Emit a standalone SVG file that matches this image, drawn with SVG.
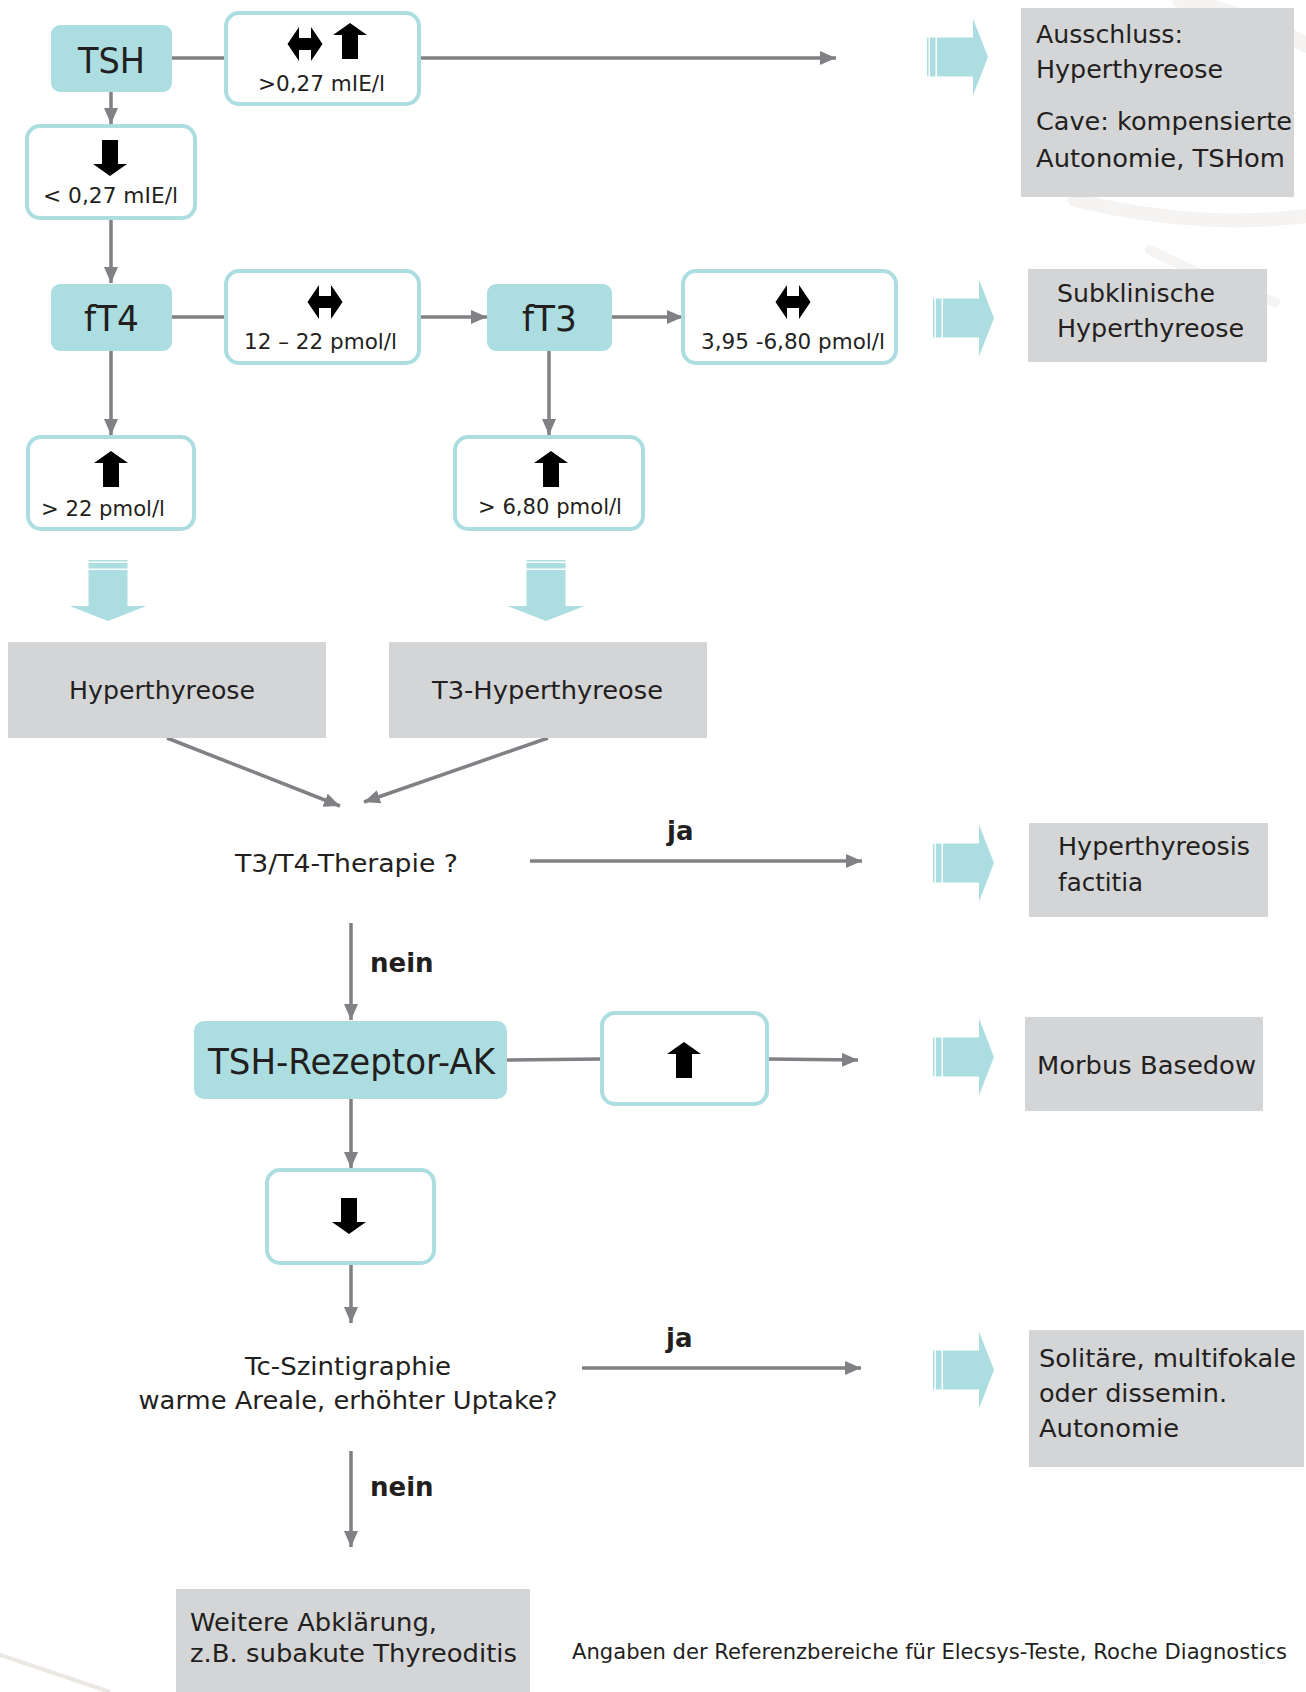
<svg xmlns="http://www.w3.org/2000/svg" xmlns:xlink="http://www.w3.org/1999/xlink" width="1306" height="1692" viewBox="0 0 1306 1692">
<style>
  .t { font-family: "DejaVu Sans", Verdana, sans-serif; fill: #231f20; }
  .big { font-size: 36px; }
  .mid { font-size: 25px; }
  .sm { font-size: 21px; }
  .lbl { font-size: 26px; font-weight: bold; }
  .cyan { fill: #acdde1; }
  .wbox { fill: #ffffff; stroke: #acdde1; stroke-width: 4; }
  .gbox { fill: #d4d5d7; }
  .con { fill: none; stroke: #808085; stroke-width: 3.5; }
  .icon { fill: #000000; }
  .blk { fill: #acdde1; }
  .wm { fill: none; stroke: #f6f4f2; stroke-linecap: round; }
</style>
<defs>
  <marker id="ah" markerUnits="userSpaceOnUse" markerWidth="16" markerHeight="14" refX="16" refY="7" orient="auto">
    <path d="M0,0 L16,7 L0,14 Z" fill="#808085"/>
  </marker>
  <g id="blockR">
    <path class="blk" d="M0,-19.5h1.5v39h-1.5z M3,-19.5h5.5v39h-5.5z M10,-19.5H46V-38.5L61,0L46,38.5V19.5H10Z"/>
  </g>
  <path id="upA" d="M-8,18 V-6 H-17 L0,-18 L17,-6 H8 V18 Z"/>
  <path id="downA" d="M-8,-18 V6 H-17 L0,18 L17,6 H8 V-18 Z"/>
  <path id="lrA" d="M-17.5,0 L-6,-17 V-6 H6 V-17 L17.5,0 L6,17 V6 H-6 V17 Z"/>
</defs>

<g id="watermark">
  <path class="wm" stroke-width="16" d="M1180,0 C1230,10 1280,30 1306,45"/>
  <path class="wm" stroke-width="14" d="M1075,200 C1150,218 1230,226 1306,216"/>
  <path class="wm" stroke-width="10" d="M1150,250 C1200,275 1240,292 1275,302"/>
  <path fill="none" stroke="#ebe7e3" stroke-width="4" d="M0,1655 L110,1692"/>
</g>

<g id="connectors">
  <line class="con" x1="172" y1="58" x2="226" y2="58"/>
  <line class="con" x1="419" y1="58" x2="836" y2="58" marker-end="url(#ah)"/>
  <line class="con" x1="111" y1="92" x2="111" y2="124" marker-end="url(#ah)"/>
  <line class="con" x1="111" y1="218" x2="111" y2="283" marker-end="url(#ah)"/>
  <line class="con" x1="172" y1="317" x2="226" y2="317"/>
  <line class="con" x1="419" y1="317" x2="487" y2="317" marker-end="url(#ah)"/>
  <line class="con" x1="612" y1="317" x2="683" y2="317" marker-end="url(#ah)"/>
  <line class="con" x1="111" y1="351" x2="111" y2="435" marker-end="url(#ah)"/>
  <line class="con" x1="549" y1="351" x2="549" y2="435" marker-end="url(#ah)"/>
  <line class="con" x1="167" y1="738" x2="340" y2="806" marker-end="url(#ah)"/>
  <line class="con" x1="548" y1="738" x2="364" y2="802" marker-end="url(#ah)"/>
  <line class="con" x1="530" y1="861" x2="862" y2="861" marker-end="url(#ah)"/>
  <line class="con" x1="351" y1="923" x2="351" y2="1020" marker-end="url(#ah)"/>
  <line class="con" x1="507" y1="1060" x2="602" y2="1059"/>
  <line class="con" x1="767" y1="1059" x2="858" y2="1060" marker-end="url(#ah)"/>
  <line class="con" x1="351" y1="1099" x2="351" y2="1168" marker-end="url(#ah)"/>
  <line class="con" x1="351" y1="1263" x2="351" y2="1323" marker-end="url(#ah)"/>
  <line class="con" x1="582" y1="1368" x2="861" y2="1368" marker-end="url(#ah)"/>
  <line class="con" x1="351" y1="1451" x2="351" y2="1547" marker-end="url(#ah)"/>
  <text class="t lbl" x="667" y="840">ja</text>
  <text class="t lbl" x="370" y="972">nein</text>
  <text class="t lbl" x="666" y="1347">ja</text>
  <text class="t lbl" x="370" y="1496">nein</text>
</g>

<g id="block-arrows">
  <use xlink:href="#blockR" transform="translate(927,57)"/>
  <use xlink:href="#blockR" transform="translate(933,318)"/>
  <use xlink:href="#blockR" transform="translate(933,863)"/>
  <use xlink:href="#blockR" transform="translate(933,1057)"/>
  <use xlink:href="#blockR" transform="translate(933,1370)"/>
  <use xlink:href="#blockR" transform="translate(108,560) rotate(90)"/>
  <use xlink:href="#blockR" transform="translate(546,560) rotate(90)"/>
</g>

<g id="tsh">
  <rect class="cyan" x="51" y="25" width="121" height="67" rx="9"/>
  <text class="t big" x="78" y="73" textLength="67" lengthAdjust="spacingAndGlyphs">TSH</text>
</g>

<g id="tsh-normal">
  <rect class="wbox" x="226" y="13" width="193" height="91" rx="13"/>
  <use xlink:href="#lrA" class="icon" x="305" y="44"/>
  <use xlink:href="#upA" class="icon" x="350" y="41"/>
  <text class="t sm" x="258" y="91" textLength="127" lengthAdjust="spacingAndGlyphs">&gt;0,27 mIE/l</text>
</g>

<g id="tsh-low">
  <rect class="wbox" x="27" y="126" width="168" height="92" rx="13"/>
  <use xlink:href="#downA" class="icon" x="110" y="158"/>
  <text class="t sm" x="43" y="203" textLength="135" lengthAdjust="spacingAndGlyphs">&lt; 0,27 mIE/l</text>
</g>

<g id="result-ausschluss">
  <rect class="gbox" x="1021" y="8" width="273" height="189"/>
  <text class="t mid" x="1036" y="43" textLength="147" lengthAdjust="spacingAndGlyphs">Ausschluss:</text>
  <text class="t mid" x="1036" y="78" textLength="187" lengthAdjust="spacingAndGlyphs">Hyperthyreose</text>
  <text class="t mid" x="1036" y="130" textLength="256" lengthAdjust="spacingAndGlyphs">Cave: kompensierte</text>
  <text class="t mid" x="1036" y="167" textLength="249" lengthAdjust="spacingAndGlyphs">Autonomie, TSHom</text>
</g>

<g id="ft4">
  <rect class="cyan" x="51" y="284" width="121" height="67" rx="9"/>
  <text class="t big" x="84" y="331" textLength="55" lengthAdjust="spacingAndGlyphs">fT4</text>
</g>

<g id="ft4-normal">
  <rect class="wbox" x="226" y="271" width="193" height="92" rx="13"/>
  <use xlink:href="#lrA" class="icon" x="325" y="302"/>
  <text class="t sm" x="244" y="349" textLength="153" lengthAdjust="spacingAndGlyphs">12 – 22 pmol/l</text>
</g>

<g id="ft3">
  <rect class="cyan" x="487" y="284" width="125" height="67" rx="9"/>
  <text class="t big" x="522" y="331" textLength="55" lengthAdjust="spacingAndGlyphs">fT3</text>
</g>

<g id="ft3-normal">
  <rect class="wbox" x="683" y="271" width="213" height="92" rx="13"/>
  <use xlink:href="#lrA" class="icon" x="793" y="302"/>
  <text class="t sm" x="701" y="349" textLength="184" lengthAdjust="spacingAndGlyphs">3,95 -6,80 pmol/l</text>
</g>

<g id="result-subklinisch">
  <rect class="gbox" x="1028" y="269" width="239" height="93"/>
  <text class="t mid" x="1057" y="302" textLength="158" lengthAdjust="spacingAndGlyphs">Subklinische</text>
  <text class="t mid" x="1057" y="337" textLength="187" lengthAdjust="spacingAndGlyphs">Hyperthyreose</text>
</g>

<g id="ft4-high">
  <rect class="wbox" x="28" y="437" width="166" height="92" rx="13"/>
  <use xlink:href="#upA" class="icon" x="111" y="469"/>
  <text class="t sm" x="41" y="516" textLength="124" lengthAdjust="spacingAndGlyphs">&gt; 22 pmol/l</text>
</g>

<g id="ft3-high">
  <rect class="wbox" x="455" y="437" width="188" height="92" rx="13"/>
  <use xlink:href="#upA" class="icon" x="551" y="469"/>
  <text class="t sm" x="478" y="514" textLength="144" lengthAdjust="spacingAndGlyphs">&gt; 6,80 pmol/l</text>
</g>

<g id="hyperthyreose">
  <rect class="gbox" x="8" y="642" width="318" height="96"/>
  <text class="t mid" x="69" y="699" textLength="186" lengthAdjust="spacingAndGlyphs">Hyperthyreose</text>
</g>

<g id="t3-hyperthyreose">
  <rect class="gbox" x="389" y="642" width="318" height="96"/>
  <text class="t mid" x="432" y="699" textLength="231" lengthAdjust="spacingAndGlyphs">T3-Hyperthyreose</text>
</g>

<g id="therapie">
  <text class="t mid" x="235" y="872" textLength="223" lengthAdjust="spacingAndGlyphs">T3/T4-Therapie ?</text>
</g>

<g id="result-factitia">
  <rect class="gbox" x="1029" y="823" width="239" height="94"/>
  <text class="t mid" x="1058" y="855" textLength="192" lengthAdjust="spacingAndGlyphs">Hyperthyreosis</text>
  <text class="t mid" x="1058" y="891" textLength="85" lengthAdjust="spacingAndGlyphs">factitia</text>
</g>

<g id="trak">
  <rect class="cyan" x="194" y="1021" width="313" height="78" rx="10"/>
  <text class="t big" x="208" y="1074" textLength="287" lengthAdjust="spacingAndGlyphs">TSH-Rezeptor-AK</text>
</g>

<g id="trak-high">
  <rect class="wbox" x="602" y="1013" width="165" height="91" rx="13"/>
  <use xlink:href="#upA" class="icon" x="684" y="1060"/>
</g>

<g id="result-basedow">
  <rect class="gbox" x="1025" y="1017" width="238" height="94"/>
  <text class="t mid" x="1037" y="1074" textLength="219" lengthAdjust="spacingAndGlyphs">Morbus Basedow</text>
</g>

<g id="trak-low">
  <rect class="wbox" x="267" y="1170" width="167" height="93" rx="13"/>
  <use xlink:href="#downA" class="icon" x="349" y="1216"/>
</g>

<g id="szintigraphie">
  <text class="t mid" x="348" y="1375" text-anchor="middle" textLength="206" lengthAdjust="spacingAndGlyphs">Tc-Szintigraphie</text>
  <text class="t mid" x="348" y="1409" text-anchor="middle" textLength="419" lengthAdjust="spacingAndGlyphs">warme Areale, erhöhter Uptake?</text>
</g>

<g id="result-autonomie">
  <rect class="gbox" x="1029" y="1330" width="275" height="137"/>
  <text class="t mid" x="1039" y="1367" textLength="257" lengthAdjust="spacingAndGlyphs">Solitäre, multifokale</text>
  <text class="t mid" x="1039" y="1402" textLength="188" lengthAdjust="spacingAndGlyphs">oder dissemin.</text>
  <text class="t mid" x="1039" y="1437" textLength="140" lengthAdjust="spacingAndGlyphs">Autonomie</text>
</g>

<g id="weitere">
  <rect class="gbox" x="176" y="1589" width="354" height="103"/>
  <text class="t mid" x="190" y="1631" textLength="247" lengthAdjust="spacingAndGlyphs">Weitere Abklärung,</text>
  <text class="t mid" x="190" y="1662" textLength="327" lengthAdjust="spacingAndGlyphs">z.B. subakute Thyreoditis</text>
</g>

<g id="footer">
  <text class="t sm" x="572" y="1659" textLength="715" lengthAdjust="spacingAndGlyphs">Angaben der Referenzbereiche für Elecsys-Teste, Roche Diagnostics</text>
</g>
</svg>
